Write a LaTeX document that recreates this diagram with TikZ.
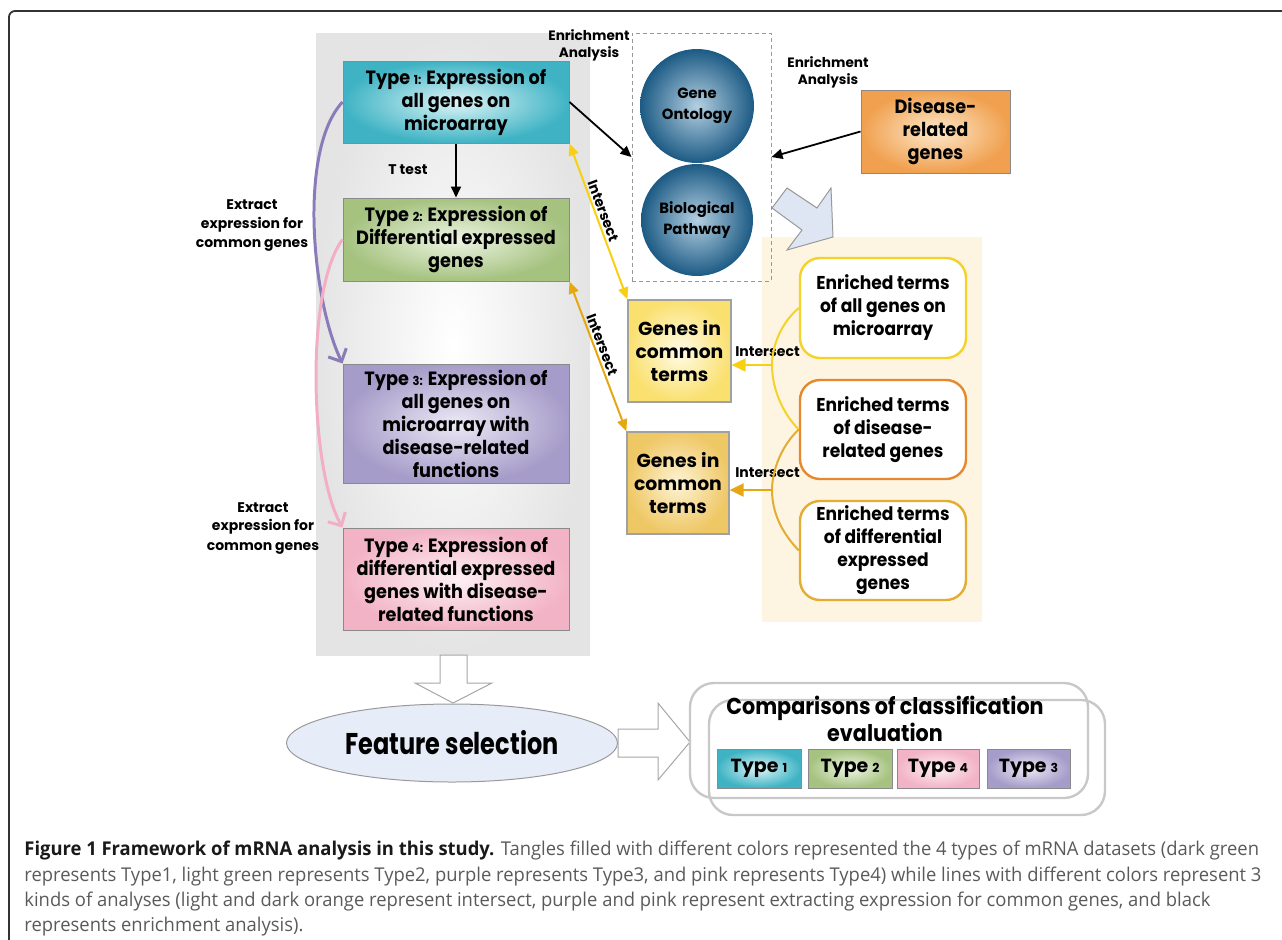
\documentclass[tikz,border=0pt]{standalone}
\usepackage{fontspec}
\usepackage{graphicx}
\usetikzlibrary{arrows.meta,shapes.geometric,calc}
\newfontfamily\df{Poppins}
\newfontfamily\dfn{Poppins}[FakeStretch=0.92]
\newfontfamily\capfont{Open Sans}
\newsavebox\capbox
\newdimen\capw
\newcommand\sn[1]{{\fontsize{6.2}{6}\selectfont #1}}
\newcommand\snb[1]{{\fontsize{6.2}{6}\selectfont #1}}
\definecolor{framecol}{HTML}{333333}
\definecolor{boxgray}{HTML}{8A8A8A}
\definecolor{tAout}{HTML}{3FB3C4}\definecolor{tAin}{HTML}{DDF5F7}
\definecolor{tBout}{HTML}{A5C27F}\definecolor{tBin}{HTML}{EEF5E4}
\definecolor{tCout}{HTML}{A69CC9}\definecolor{tCin}{HTML}{ECE9F5}
\definecolor{tDout}{HTML}{F2B3C6}\definecolor{tDin}{HTML}{FDF0F4}
\definecolor{disout}{HTML}{F0A04E}\definecolor{disin}{HTML}{FDE8CC}
\definecolor{gAout}{HTML}{FAE06F}\definecolor{gAin}{HTML}{FFFCE8}
\definecolor{gBout}{HTML}{EFC866}\definecolor{gBin}{HTML}{FDF3D4}
\definecolor{ballout}{HTML}{1C5A84}\definecolor{ballin}{HTML}{B4D0E2}
\definecolor{beige}{HTML}{FDF5E2}
\definecolor{panelgray}{HTML}{E4E4E4}
\definecolor{arrblue}{HTML}{DDE6F2}
\definecolor{eyel}{HTML}{F5D22A}
\definecolor{eora}{HTML}{E6882C}
\definecolor{egold}{HTML}{E3AC32}
\definecolor{iyel}{HTML}{F7D014}
\definecolor{igold}{HTML}{E6A812}
\definecolor{purp}{HTML}{8A7CB8}
\definecolor{pinkl}{HTML}{F2AEC4}
\definecolor{ellfill}{HTML}{E6EDF8}
\definecolor{cmpgray}{HTML}{C8C8C8}
\definecolor{captxt}{HTML}{5A5A5A}
\newcommand\capline[1]{\scalebox{\capsc}[1]{\capfont\fontsize{9.5}{12}\selectfont\color{captxt}#1}}
\begin{document}
\sbox\capbox{\capfont\fontsize{9.5}{12}\selectfont represents Type1, light green represents Type2, purple represents Type3, and pink represents Type4) while lines with different colors represent 3}%
\capw=\wd\capbox
\pgfmathsetmacro\capsc{618.5/\capw}%
\begin{tikzpicture}[x=0.5pt,y=-0.5pt,
  typebox/.style={draw=boxgray, line width=0.5pt, minimum width=113pt, inner sep=0pt, align=center,
    font={\dfn\bfseries\fontsize{9.6}{11.5}\selectfont}},
  gbox/.style={draw=boxgray!80, line width=0.6pt, inner sep=0pt, align=center,
    font={\df\bfseries\fontsize{9.4}{11.5}\selectfont}},
  ebox/.style={draw, fill=white, line width=1.2pt, rounded corners=10pt, minimum width=83pt, inner sep=0pt,
    align=center, font={\dfn\bfseries\fontsize{9.3}{11.5}\selectfont}},
  ball/.style={circle, inner sep=0pt, inner color=ballin, outer color=ballout, align=center,
    font={\df\bfseries\fontsize{7.4}{10.5}\selectfont}},
  lbl/.style={inner sep=0pt, align=center, font={\df\bfseries\fontsize{7}{9.5}\selectfont}},
  blkarr/.style={line width=0.9pt, -{Triangle[length=5.5pt,width=5pt]}},
  dbl/.style={line width=1pt, {Triangle[length=6pt,width=5pt]}-{Triangle[length=6pt,width=5pt]}},
  extarr/.style={line width=1.5pt, -{Straight Barb[length=5pt,width=10pt]}},
  hookarr/.style={line width=1pt, -{Triangle[length=7pt,width=6.5pt]}},
  blockshape/.style={fill=white, draw=gray!70, line width=0.5pt},
  cmpbox/.style={draw=cmpgray, line width=1.2pt, rounded corners=12pt, minimum width=199pt, minimum height=57.5pt, inner sep=0pt},
  smallbox/.style={draw=boxgray, line width=0.5pt, minimum width=42pt, minimum height=19.5pt, inner sep=0pt,
    font={\df\bfseries\fontsize{9.5}{11}\selectfont}}
]
\useasboundingbox (0,0) rectangle (1282,939);

% outer frame
\draw[framecol, line width=0.9pt, rounded corners=3pt] (9,960) -- (9,11) -- (1300,11);

% background panels
\node[inner sep=0pt, minimum width=137pt, minimum height=311pt, inner color=white, outer color=panelgray] (panel) at (453,344) {};
\node[inner sep=0pt, fill=beige, minimum width=110pt, minimum height=192.5pt] (beigep) at (872,429.5) {};

% dashed box and balls
\node[draw=gray!80, dashed, dash pattern=on 2pt off 1.5pt, line width=0.5pt, minimum width=69.5pt, minimum height=124pt, inner sep=0pt] (dbox) at (701.5,157) {};
\node[ball, minimum size=57pt] (go) at (697,106) {Gene\\Ontology};
\node[ball, minimum size=56pt] (bp) at (697,220) {Biological\\Pathway};

% light blue block arrow
\draw[fill=arrblue, draw=gray!80, line width=0.5pt] (787,188) -- (817,208) -- (831,188) -- (833,237) -- (787,250) -- (802,230) -- (772,208) -- cycle;

% type boxes
\node[typebox, minimum height=41pt, inner color=tAin, outer color=tAout] (t1) at (456,102) {Type \sn{1:} Expression of\\all genes on\\microarray};
\node[typebox, minimum height=41.5pt, inner color=tBin, outer color=tBout] (t2) at (456,239.5) {Type \sn{2:} Expression of\\Differential expressed\\genes};
\node[typebox, minimum height=59.5pt, inner color=tCin, outer color=tCout] (t3) at (456,423.5) {Type \sn{3:} Expression of\\all genes on\\microarray with\\disease-related\\functions};
\node[typebox, minimum height=51pt, inner color=tDin, outer color=tDout] (t4) at (456,579) {Type \sn{4:} Expression of\\differential expressed\\genes with disease-\\related functions};

% disease box
\node[typebox, minimum width=74.5pt, minimum height=41.5pt, inner color=disin, outer color=disout,
  font={\dfn\bfseries\fontsize{9.6}{11.5}\selectfont}] (dis) at (935.5,131.5) {Disease-\\related\\genes};

% enriched term boxes
\node[ebox, draw=eyel, minimum height=50pt] (e1) at (883,308) {Enriched terms\\of all genes on\\microarray};
\node[ebox, draw=eora, minimum height=49.5pt] (e2) at (883,429.5) {Enriched terms\\of disease-\\related genes};
\node[ebox, draw=egold, minimum height=49.5pt] (e3) at (883,550.5) {Enriched terms\\of differential\\expressed\\genes};

% genes in common terms
\node[gbox, minimum width=51.5pt, minimum height=51pt, inner color=gAin, outer color=gAout] (g1) at (679.5,351) {Genes in\\common\\terms};
\node[gbox, minimum width=51pt, minimum height=51pt, inner color=gBin, outer color=gBout] (g2) at (678,483) {Genes in\\common\\terms};

% labels
\node[lbl, font={\df\bfseries\fontsize{6.8}{8.5}\selectfont}] (enrL) at (589,45) {Enrichment\\Analysis};
\node[lbl, font={\df\bfseries\fontsize{6.8}{8.5}\selectfont}] (enrR) at (828,72) {Enrichment\\Analysis};
\node[lbl] (ttest) at (408,170) {T test};
\node[lbl] (ext1) at (252,226) {Extract\\expression for\\common genes};
\node[lbl] (ext2) at (263,528) {Extract\\expression for\\common genes};
\node[lbl] (intA) at (767.5,352) {Intersect};
\node[lbl] (intB) at (767.5,473) {Intersect};

% black enrichment/T test arrows
\draw[blkarr] (t1.south) -- (t2.north);
\draw[blkarr] (t1.east) -- (dbox.west);
\draw[blkarr] (dis.west) -- (dbox.east);

% intersect double arrows
\draw[dbl, iyel] (t1.south east) -- node[sloped, above=1pt, pos=0.45, text=black, lbl] (int1) {Intersect} (g1.north west);
\draw[dbl, igold] (t2.south east) -- node[sloped, above=1pt, pos=0.44, text=black, lbl] (int2) {Intersect} (g2.north west);

% extract curves
\draw[extarr, purp] (t1.west) .. controls (298,150) and (312,300) .. (t3.north west);
\draw[extarr, pinkl, line width=1.5pt] (t2.west) .. controls (305,290) and (310,470) .. (t4.north west);

% brackets and intersect arrows
\coordinate (j1) at (772,365);
\coordinate (j2) at (772,490);
\draw[eyel, line width=1pt] (e1.west) .. controls (782,322) and (772,345) .. (j1) .. controls (772,390) and (784,415) .. (e2.west);
\draw[egold, line width=1pt] (e2.west) .. controls (782,445) and (772,470) .. (j2) .. controls (772,515) and (784,535) .. (e3.west);
\draw[hookarr, iyel] (j1) -- (g1.east |- j1);
\draw[hookarr, igold] (j2) -- (g2.east |- j2);

% bottom part
\draw[blockshape] (440,655) -- (467,655) -- (467,683) -- (492,683) -- (453,703) -- (415,683) -- (440,683) -- cycle;
\node[ellipse, draw=gray!80, line width=0.5pt, fill=ellfill, minimum width=165.5pt, minimum height=39pt, inner sep=0pt,
  font={\df\bfseries\fontsize{15}{17}\selectfont}] (fs) at (452,743) {\scalebox{0.8}[1]{Feature selection}};
\draw[blockshape] (618,729) -- (658,729) -- (658,703) -- (690,742) -- (658,780) -- (658,757) -- (618,757) -- cycle;

\node[cmpbox] (cmpA) at (889,740.5) {};
\node[cmpbox, minimum width=198pt] (cmpB) at (907,757.5) {};
\node[inner sep=0pt, align=center, font={\df\bfseries\fontsize{11.5}{13.5}\selectfont}] (cmpT) at (885,718.5) {\scalebox{0.9}[1]{Comparisons of classification}\\\scalebox{0.9}[1]{evaluation}};
\node[smallbox, inner color=tAin, outer color=tAout] (s1) at (759,768.5) {Type \snb{1}};
\node[smallbox, inner color=tBin, outer color=tBout] (s2) at (850,768.5) {Type \snb{2}};
\node[smallbox, minimum width=41pt, inner color=tDin, outer color=tDout] (s4) at (938,768.5) {Type \snb{4}};
\node[smallbox, minimum width=41.5pt, inner color=tCin, outer color=tCout] (s3) at (1028.5,768.5) {Type \snb{3}};

% caption
\node[anchor=base west, inner sep=0pt] (cap1) at (24,855) {\capline{{\bfseries\color{black!90}Figure 1 Framework of mRNA analysis in this study.} Tangles filled with different colors represented the 4 types of mRNA datasets (dark green}};
\node[anchor=base west, inner sep=0pt] (cap2) at (24,881) {\capline{represents Type1, light green represents Type2, purple represents Type3, and pink represents Type4) while lines with different colors represent 3}};
\node[anchor=base west, inner sep=0pt] (cap3) at (24,906) {\capline{kinds of analyses (light and dark orange represent intersect, purple and pink represent extracting expression for common genes, and black}};
\node[anchor=base west, inner sep=0pt] (cap4) at (24,931) {\capline{represents enrichment analysis).}};
\end{tikzpicture}
\end{document}
